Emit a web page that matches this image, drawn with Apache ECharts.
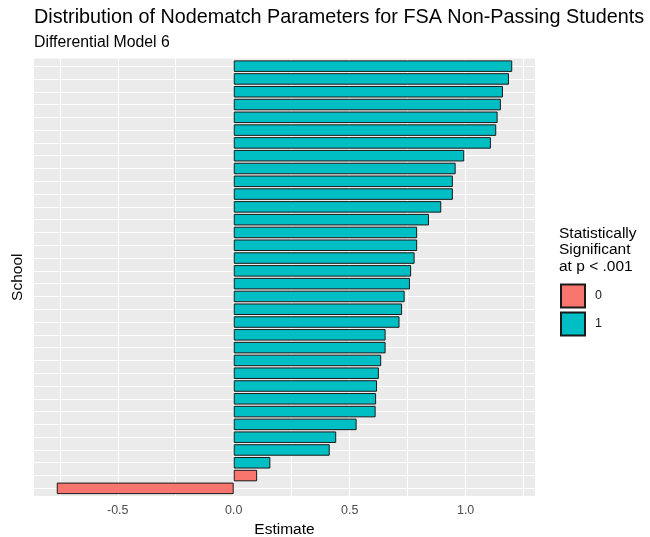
<!DOCTYPE html>
<html>
<head>
<meta charset="utf-8">
<script src="https://cdn.jsdelivr.net/npm/echarts@6/dist/echarts.min.js"></script>
<style>
  html, body { margin: 0; padding: 0; background: #ffffff; }
  #chart { width: 650px; height: 537px; }
</style>
</head>
<body>
<div id="chart"></div>
<script>
// Schools, ordered from the largest estimate (top) to the smallest (bottom)
const schools = [
  'S01','S02','S03','S04','S05','S06','S07','S08','S09','S10',
  'S11','S12','S13','S14','S15','S16','S17','S18','S19','S20',
  'S21','S22','S23','S24','S25','S26','S27','S28','S29','S30',
  'S31','S32','S33','S34'
];
// Nodematch parameter estimate for each school
const estimates = [
  1.201, 1.187, 1.161, 1.152, 1.138, 1.132, 1.109, 0.994, 0.957, 0.945,
  0.945, 0.895, 0.842, 0.791, 0.791, 0.780, 0.765, 0.760, 0.737, 0.726,
  0.715, 0.655, 0.655, 0.636, 0.626, 0.618, 0.614, 0.612, 0.530, 0.442,
  0.414, 0.158, 0.101, -0.763
];
// Statistically significant at p < .001 (1) or not (0)
const significant = [
  1, 1, 1, 1, 1, 1, 1, 1, 1, 1,
  1, 1, 1, 1, 1, 1, 1, 1, 1, 1,
  1, 1, 1, 1, 1, 1, 1, 1, 1, 1,
  1, 1, 0, 0
];
const groups = ['0', '1'];
const groupColors = ['#F8766D', '#00BFC4'];
const xLabelTicks = [-0.5, 0, 0.5, 1.0];
const xGridTicks = [-0.75, -0.5, -0.25, 0, 0.25, 0.5, 0.75, 1.0, 1.25];

const FONT = '"Liberation Sans", Arial, sans-serif';

// Panel geometry (gray plotting area)
const panel = { left: 34, top: 58.5, width: 501, height: 437.5 };
const nCat = schools.length;
// discrete axis padded by 0.6 of a category on each side
const band = panel.height / (nCat + 1.2);
const inset = 0.1 * band;

// continuous axis padded by 5% of the data range
const lo = Math.min(...estimates), hi = Math.max(...estimates);
const pad = 0.05 * (hi - lo);
const xMin = lo - pad, xMax = hi + pad;

// gridline positions at the centre of each category
const catCentres = schools.map((s, i) => i + 1);

const series = groups.map((g, gi) => ({
  name: g,
  type: 'bar',
  xAxisIndex: 1,
  yAxisIndex: 1,
  barWidth: '90%',
  barGap: '-100%',
  itemStyle: { color: groupColors[gi], borderColor: '#1a1a1a', borderWidth: 1 },
  emphasis: { disabled: true },
  data: estimates.map((v, i) => String(significant[i]) === g ? v : '-')
}));

const chart = echarts.init(document.getElementById('chart'), null, { renderer: 'canvas' });
chart.setOption({
  animation: false,
  backgroundColor: '#ffffff',
  title: [
    {
      text: 'Distribution of Nodematch Parameters for FSA Non-Passing Students',
      left: 34, top: 7.5, padding: 0,
      textStyle: { fontFamily: FONT, fontSize: 19.8, fontWeight: 'normal', color: '#000000' }
    },
    {
      text: 'Differential Model 6',
      left: 34, top: 35, padding: 0,
      textStyle: { fontFamily: FONT, fontSize: 15.8, fontWeight: 'normal', color: '#000000' }
    },
    {
      text: 'Statistically\nSignificant\nat p < .001',
      left: 559, top: 225, padding: 0,
      textStyle: { fontFamily: FONT, fontSize: 15.5, fontWeight: 'normal', color: '#000000', lineHeight: 16.5 }
    }
  ],
  legend: {
    data: groups,
    orient: 'vertical',
    left: 560, top: 283.5, padding: 0,
    itemWidth: 24, itemHeight: 23, itemGap: 3,
    icon: 'rect',
    selectedMode: false,
    textStyle: { fontFamily: FONT, fontSize: 12.5, color: '#1a1a1a', padding: [0, 0, 0, 5] }
  },
  grid: [
    {
      left: panel.left, top: panel.top, width: panel.width, height: panel.height,
      show: true, backgroundColor: '#EBEBEB', borderWidth: 0,
      containLabel: false, outerBoundsMode: 'none'
    },
    {
      left: panel.left, top: panel.top + inset, width: panel.width, height: panel.height - 2 * inset,
      show: false, containLabel: false, outerBoundsMode: 'none'
    }
  ],
  xAxis: [
    {
      gridIndex: 0, type: 'value', min: xMin, max: xMax,
      name: 'Estimate', nameLocation: 'middle', nameGap: 26,
      nameTextStyle: { fontFamily: FONT, fontSize: 15.5, color: '#000000' },
      axisLine: { show: false },
      axisTick: { show: false, customValues: xGridTicks },
      axisLabel: {
        customValues: xLabelTicks, margin: 8,
        fontFamily: FONT, fontSize: 12.5, color: '#4D4D4D',
        formatter: v => v.toFixed(1)
      },
      splitLine: { show: true, lineStyle: { color: '#ffffff', width: 1.1 } }
    },
    {
      gridIndex: 1, type: 'value', min: xMin, max: xMax, show: false,
      splitLine: { show: false }
    }
  ],
  yAxis: [
    {
      gridIndex: 0, type: 'value', min: 0.4, max: nCat + 0.6,
      name: 'School', nameLocation: 'middle', nameGap: 8, nameRotate: 90,
      nameTextStyle: { fontFamily: FONT, fontSize: 15.5, color: '#000000' },
      axisLine: { show: false },
      axisTick: { show: false, customValues: catCentres },
      axisLabel: { show: false },
      splitLine: { show: true, lineStyle: { color: '#ffffff', width: 1 } }
    },
    {
      gridIndex: 1, type: 'category', data: schools, inverse: true, show: false,
      splitLine: { show: false }
    }
  ],
  series: series
});
</script>
</body>
</html>
